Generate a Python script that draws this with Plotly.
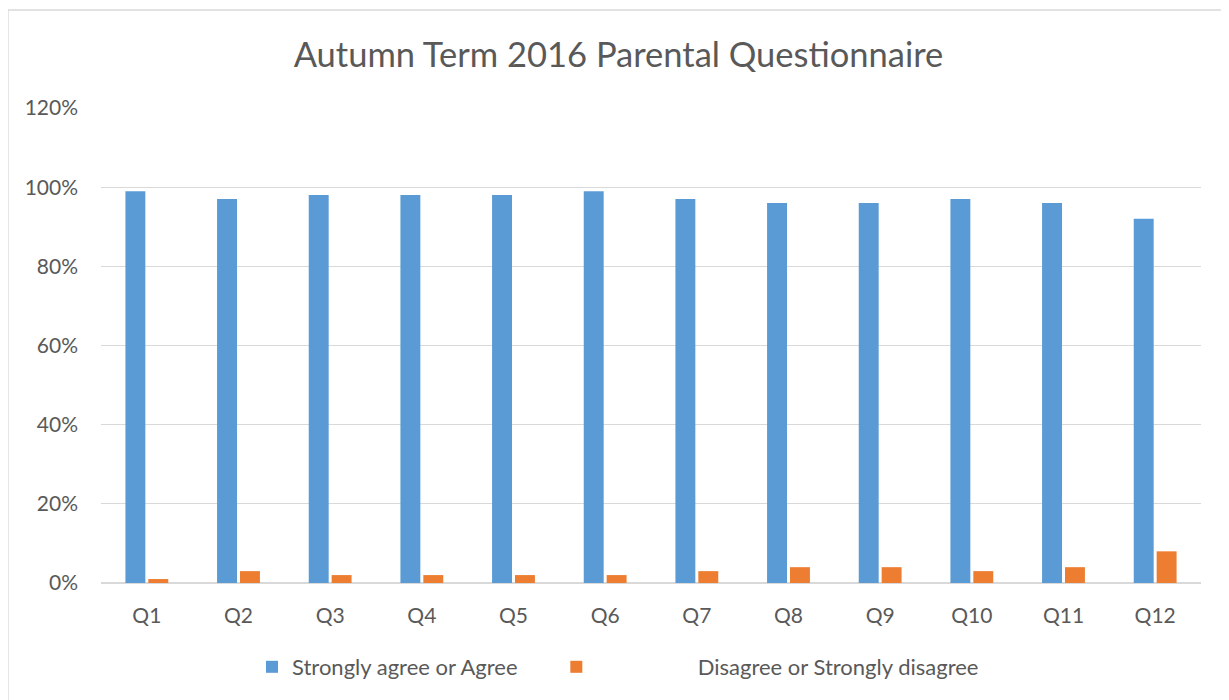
import plotly.graph_objects as go

categories = ["Q1", "Q2", "Q3", "Q4", "Q5", "Q6", "Q7", "Q8", "Q9", "Q10", "Q11", "Q12"]
agree = [99, 97, 98, 98, 98, 99, 97, 96, 96, 97, 96, 92]
disagree = [1, 3, 2, 2, 2, 2, 3, 4, 4, 3, 4, 8]
series_names = ["Strongly agree or Agree", "Disagree or Strongly disagree"]
y_ticks = [0, 20, 40, 60, 80, 100, 120]
y_tick_text = ["0%", "20%", "40%", "60%", "80%", "100%", "120%"]

# page has an 8px body margin; reference pixel coords are shifted by OFF
OFF = 8
W, H = 1229 - OFF, 700 - OFF
L, T = 101 - OFF, 108 - OFF
R = W - (1201 - OFF)
B = H - (583 - OFF)
pw, ph = W - L - R, H - T - B

font = "Lato, 'Open Sans', sans-serif"
txt = "#595959"
NB = "\u00a0"

fig = go.Figure()
fig.add_trace(go.Bar(x=categories, y=agree, name=series_names[0] + NB * 6,
                     marker=dict(color="#5B9BD5", line=dict(width=0))))
fig.add_trace(go.Bar(x=categories, y=disagree,
                     name=NB * 18 + series_names[1],
                     marker=dict(color="#ED7D31", line=dict(width=0))))

fig.update_layout(
    width=W, height=H,
    margin=dict(l=L, r=R, t=T, b=B, autoexpand=False),
    paper_bgcolor="white", plot_bgcolor="white",
    font=dict(family=font, size=21, color=txt),
    title=dict(text="Autumn Term 2016 Parental Questionnaire",
               x=(618.5 - OFF) / W, xanchor="center", xref="container",
               y=1 - (55 - OFF) / H, yanchor="middle", yref="container",
               font=dict(family=font, size=34.5, color=txt)),
    barmode="group", bargap=0.5, bargroupgap=0.13,
    showlegend=True,
    legend=dict(orientation="h", x=(252 - OFF - L) / pw, xanchor="left",
                y=(ph - (667 - OFF - T)) / ph, yanchor="middle",
                font=dict(family=font, size=22, color=txt),
                bgcolor="rgba(0,0,0,0)"),
    xaxis=dict(showgrid=False, showline=False, ticks="", ticklabelstandoff=18,
               tickfont=dict(family=font, size=21, color=txt)),
    yaxis=dict(range=[0, 120], tickvals=y_ticks, ticktext=y_tick_text,
               showgrid=True, gridcolor="#D9D9D9", gridwidth=1.3,
               zeroline=True, zerolinecolor="#D9D9D9", zerolinewidth=2,
               showline=False, ticks="", ticklabelstandoff=22,
               tickfont=dict(family=font, size=21, color=txt)),
)

fig.add_shape(type="rect", xref="paper", yref="paper",
              x0=(8 - OFF - L) / pw, x1=(W + 5 - L) / pw,
              y0=(ph - (H + 5 - T)) / ph, y1=(ph - (10 - OFF - T)) / ph,
              line=dict(color="#D9D9D9", width=1.3), fillcolor="rgba(0,0,0,0)",
              layer="below")

fig.write_html("out.html")
